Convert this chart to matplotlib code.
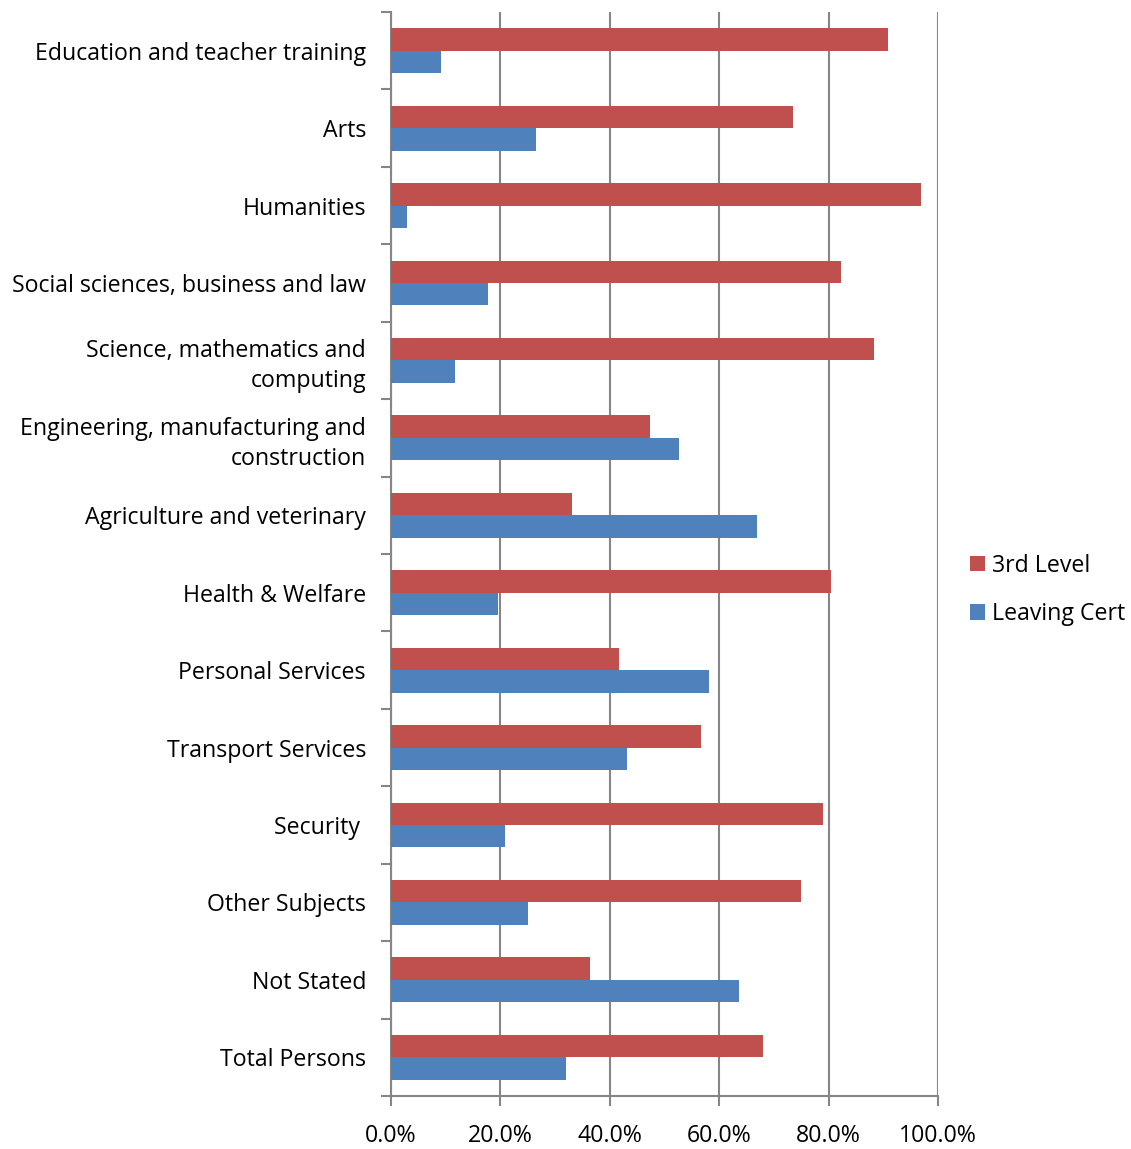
import numpy as np
from matplotlib import pyplot as plt
from matplotlib.ticker import FixedLocator, PercentFormatter

categories = ["Education and teacher training", "Arts", "Humanities",
              "Social sciences, business and law",
              "Science, mathematics and\ncomputing",
              "Engineering, manufacturing and\nconstruction",
              "Agriculture and veterinary", "Health & Welfare",
              "Personal Services", "Transport Services", "Security ",
              "Other Subjects", "Not Stated", "Total Persons"]
third_level = [90.8, 73.5, 96.9, 82.3, 88.3, 47.3, 33.1, 80.4, 41.7, 56.7, 79.0, 75.0, 36.4, 68.0]
leaving_cert = [9.2, 26.5, 3.0, 17.7, 11.7, 52.7, 66.9, 19.6, 58.2, 43.2, 20.9, 25.0, 63.7, 32.0]

plt.rcParams['font.family'] = ['Open Sans', 'DejaVu Sans']
plt.rcParams['font.size'] = 16.7

fig = plt.figure(figsize=(11.31, 11.49), dpi=100)
ax = fig.add_axes([391 / 1131, 1 - 1096 / 1149, 547 / 1131, (1096 - 12) / 1149])

n = len(categories)
y = np.arange(n)
h = 0.29
ax.barh(y - h / 2, third_level, height=h, color='#C0504D', label='3rd Level', zorder=3)
ax.barh(y + h / 2, leaving_cert, height=h, color='#4F81BD', label='Leaving Cert', zorder=3)

ax.set_xlim(0, 100)
ax.set_ylim(n - 0.5, -0.5)
ax.xaxis.set_major_locator(FixedLocator([0, 20, 40, 60, 80, 100]))
ax.xaxis.set_major_formatter(PercentFormatter(decimals=1))
ax.grid(axis='x', color='#868686', linewidth=1.5, zorder=0)

ax.set_yticks(y)
ax.set_yticklabels(categories, ha='right', linespacing=1.33)
ax.yaxis.set_minor_locator(FixedLocator(np.arange(-0.5, n, 1)))
ax.tick_params(axis='y', which='major', length=0, pad=18)
ax.tick_params(axis='y', which='minor', length=7, width=1.5, color='#868686')
ax.tick_params(axis='x', length=7, width=1.5, color='#868686', pad=13)

for s in ['top', 'right']:
    ax.spines[s].set_visible(False)
for s in ['left', 'bottom']:
    ax.spines[s].set_color('#868686')
    ax.spines[s].set_linewidth(1.5)

ax.legend(loc='center left', bbox_to_anchor=(1.02, 0.467), frameon=False,
          handlelength=0.65, handleheight=0.65, handletextpad=0.3, labelspacing=1.05)

fig.savefig('out.png', dpi=100)
